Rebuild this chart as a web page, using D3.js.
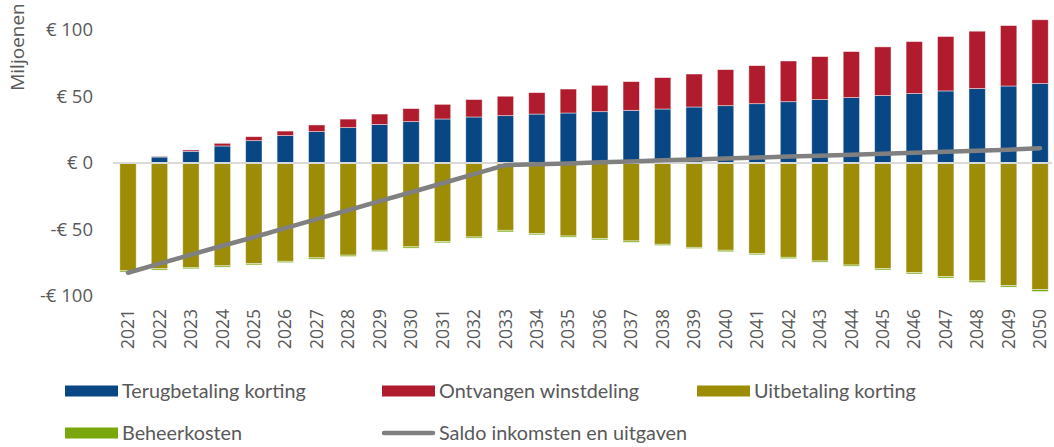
<!DOCTYPE html>
<html>
<head>
<meta charset="utf-8">
<script src="https://cdn.jsdelivr.net/npm/d3@7"></script>
<style>
  body { margin: 0; background: #fff; }
  svg { display: block; }
</style>
</head>
<body>
<div id="chart"></div>
<script>
const years = d3.range(2021, 2051).map(String);

// Miljoenen euro
const terugbetaling = [0, 4.5, 8.8, 12.8, 16.8, 20.6, 23.6, 26.6, 29, 31.1, 33.1, 34.6, 35.6, 36.8, 37.6,
  38.6, 39.6, 40.6, 42.1, 43.1, 44.6, 46.1, 47.7, 49.2, 50.7, 52.2, 54.2, 56, 57.9, 59.7];
const winstdeling = [0, 0.5, 1.0, 2.0, 3.0, 3.4, 5.0, 6.4, 7.8, 9.8, 11.0, 13.1, 14.6, 16.1, 18.0,
  19.8, 21.6, 23.6, 24.8, 27.1, 28.6, 30.6, 32.3, 34.6, 36.6, 39.1, 40.9, 43.1, 45.4, 48.0];
const uitbetaling = [-81, -79.5, -78.5, -77.3, -75.6, -73.9, -71.3, -69.3, -65.6, -63, -59, -55.6, -50.6, -53.1, -54.9,
  -56.8, -58.6, -61.1, -63.4, -65.6, -68.1, -70.9, -73.7, -76.7, -79.4, -82.4, -85.4, -88.7, -92.2, -95.2];
const beheerkosten = [-1, -1, -1, -1, -1, -1, -1, -1, -1, -1, -1, -0.9, -1.2, -0.9, -0.9,
  -1, -1, -0.9, -0.9, -1.1, -0.9, -1, -0.9, -0.9, -1, -1, -1.1, -1.1, -1.1, -1.4];
const saldo = [-82.5, -75.7, -69, -62.2, -55.8, -49, -42.2, -35.5, -28.7, -22, -15.2, -8.4, -1.6, -1, -0.3,
  0.5, 1.2, 2, 2.6, 3.4, 4.1, 4.8, 5.4, 6.2, 6.9, 7.7, 8.5, 9.2, 10, 11.1];

const yTicks = [-100, -50, 0, 50, 100];
const yTickLabels = ["-€ 100", "-€ 50", "€ 0", "€ 50", "€ 100"];

const series = [
  {name: "Terugbetaling korting", values: terugbetaling, color: "#084684"},
  {name: "Ontvangen winstdeling", values: winstdeling, color: "#B01B2D"},
  {name: "Uitbetaling korting", values: uitbetaling, color: "#9C8C06"},
  {name: "Beheerkosten", values: beheerkosten, color: "#78A80C"}
];
const lineName = "Saldo inkomsten en uitgaven";
const lineColor = "#808080";

const width = 1054, height = 447;
const textColor = "#595959";
const font = "'Open Sans', 'Liberation Sans', sans-serif";
const legendFont = "Lato, 'Liberation Sans', sans-serif";

const svg = d3.select("#chart").append("svg")
  .attr("width", width)
  .attr("height", height);

const x = d3.scaleBand().domain(years)
  .range([112.3, 1055.8])
  .paddingInner(0.48)
  .paddingOuter(0.24);
const y = d3.scaleLinear().domain([-100, 100]).range([296, 30]);

// y axis labels
const yAxis = svg.append("g")
  .attr("transform", "translate(93,0)")
  .call(d3.axisLeft(y).tickValues(yTicks).tickSize(0).tickPadding(0)
    .tickFormat((d, i) => yTickLabels[i]));
yAxis.select(".domain").remove();
yAxis.selectAll("text")
  .attr("fill", textColor)
  .attr("font-family", font)
  .attr("font-size", "18.5px");

svg.append("text")
  .attr("transform", "translate(24,47) rotate(-90)")
  .attr("text-anchor", "middle")
  .attr("fill", textColor)
  .attr("font-family", font)
  .attr("font-size", "19px")
  .text("Miljoenen");

// stacked bars: positives upward, negatives downward
const bars = svg.append("g");
years.forEach((yr, i) => {
  let pos = 0, neg = 0;
  series.forEach(s => {
    const v = s.values[i];
    let y0, y1;
    if (v >= 0) { y0 = pos; y1 = pos + v; pos = y1; }
    else { y0 = neg; y1 = neg + v; neg = y1; }
    if (v === 0) return;
    bars.append("rect")
      .attr("x", x(yr))
      .attr("width", x.bandwidth())
      .attr("y", y(Math.max(y0, y1)))
      .attr("height", Math.abs(y(y0) - y(y1)))
      .attr("fill", s.color)
      .attr("stroke", "rgba(255,255,255,0.55)")
      .attr("stroke-width", 0.8);
  });
});

// zero line
svg.append("line")
  .attr("x1", 113).attr("x2", 1052)
  .attr("y1", y(0)).attr("y2", y(0))
  .attr("stroke", "#d9d9d9")
  .attr("stroke-width", 2);

// saldo line
const line = d3.line()
  .x((d, i) => x(years[i]) + x.bandwidth() / 2)
  .y(d => y(d));
svg.append("path")
  .datum(saldo)
  .attr("d", line)
  .attr("fill", "none")
  .attr("stroke", lineColor)
  .attr("stroke-width", 4.5)
  .attr("stroke-linecap", "round")
  .attr("stroke-linejoin", "round");

// x axis labels, rotated
const xAxis = svg.append("g")
  .attr("transform", "translate(0,309)")
  .call(d3.axisBottom(x).tickSize(0).tickPadding(0));
xAxis.select(".domain").remove();
xAxis.selectAll("text")
  .attr("fill", textColor)
  .attr("font-family", font)
  .attr("font-size", "17.5px")
  .attr("text-anchor", "end")
  .attr("dy", "0.35em")
  .attr("transform", "rotate(-90)")
  .attr("x", 0)
  .attr("y", 0);

// legend
const legendItems = [
  {name: series[0].name, color: series[0].color, type: "rect", x: 65, y: 391},
  {name: series[1].name, color: series[1].color, type: "rect", x: 382, y: 391},
  {name: series[2].name, color: series[2].color, type: "rect", x: 697, y: 391},
  {name: series[3].name, color: series[3].color, type: "rect", x: 65, y: 433},
  {name: lineName, color: lineColor, type: "line", x: 382, y: 433}
];
const legend = svg.append("g");
legendItems.forEach(d => {
  const g = legend.append("g").attr("transform", `translate(${d.x},${d.y})`);
  if (d.type === "rect") {
    g.append("rect").attr("x", 0).attr("y", -5.5).attr("width", 53).attr("height", 11).attr("fill", d.color);
  } else {
    g.append("line").attr("x1", 2).attr("x2", 51).attr("y1", 0).attr("y2", 0)
      .attr("stroke", d.color).attr("stroke-width", 4.5).attr("stroke-linecap", "round");
  }
  g.append("text")
    .attr("x", 57)
    .attr("y", 0)
    .attr("dy", "0.35em")
    .attr("fill", textColor)
    .attr("font-family", legendFont)
    .attr("font-size", "19.8px")
    .text(d.name);
});
</script>
</body>
</html>
